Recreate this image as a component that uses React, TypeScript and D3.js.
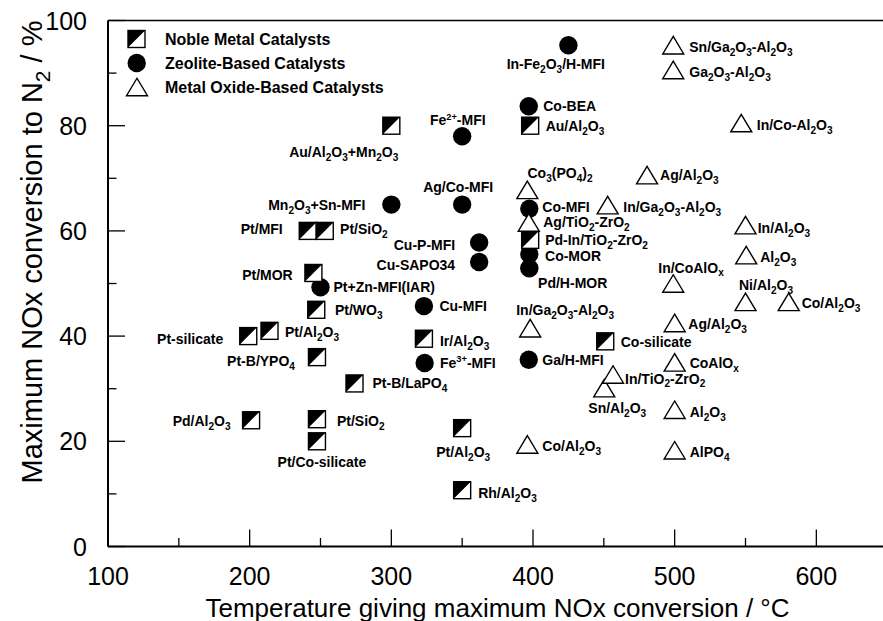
import React from 'react';
import * as d3 from 'd3';

const W = 883;
const H = 621;

// Noble metal catalysts (half-filled squares)
const nobleNames = [
  'Au/Al_2O_3+Mn_2O_3', 'Au/Al_2O_3', 'Pt/MFI', 'Pt/SiO_2', 'Pt/MOR', 'Pt/WO_3', 'Pt/Al_2O_3',
  'Pt-silicate', 'Pt-B/YPO_4', 'Pt-B/LaPO_4', 'Pd/Al_2O_3', 'Pt/SiO_2', 'Pt/Co-silicate',
  'Ir/Al_2O_3', 'Pd-In/TiO_2-ZrO_2', 'Co-silicate', 'Pt/Al_2O_3', 'Rh/Al_2O_3',
];
const nobleTemps = [300, 398, 241, 253, 245, 247, 214, 199, 247.5, 274, 201, 247.5, 247.5, 323, 398, 451, 350, 350];
const nobleConv = [80, 80, 60, 60, 52, 45, 41, 40, 36, 31, 24, 24.2, 20, 39.5, 58.3, 39, 22.5, 10.7];

// Zeolite-based catalysts (filled circles)
const zeoliteNames = [
  'In-Fe_2O_3/H-MFI', 'Co-BEA', 'Fe^{2+}-MFI', 'Mn_2O_3+Sn-MFI', 'Ag/Co-MFI', 'Cu-P-MFI',
  'Cu-SAPO34', 'Pt+Zn-MFI(IAR)', 'Cu-MFI', 'Co-MFI', 'Co-MOR', 'Pd/H-MOR', 'Fe^{3+}-MFI', 'Ga/H-MFI',
];
const zeoliteTemps = [425, 397, 350, 300, 350, 362, 362, 250, 323, 397.4, 397.4, 397.4, 323.5, 397];
const zeoliteConv = [95.3, 83.7, 78, 65, 65, 57.8, 54.1, 49.3, 45.7, 64.2, 55.6, 52.9, 34.9, 35.5];

// Metal oxide-based catalysts (open triangles)
const oxideNames = [
  'Sn/Ga_2O_3-Al_2O_3', 'Ga_2O_3-Al_2O_3', 'In/Co-Al_2O_3', 'Ag/Al_2O_3', 'Co_3(PO_4)_2',
  'Ag/TiO_2-ZrO_2', 'In/Ga_2O_3-Al_2O_3', 'In/Ga_2O_3-Al_2O_3', 'In/Al_2O_3', 'Al_2O_3',
  'Ni/Al_2O_3', 'Co/Al_2O_3', 'In/CoAlO_x', 'Ag/Al_2O_3', 'CoAlO_x', 'Al_2O_3', 'AlPO_4',
  'Sn/Al_2O_3', 'In/TiO_2-ZrO_2', 'Co/Al_2O_3',
];
const oxideTemps = [499, 499, 547, 480.5, 396, 397, 452.7, 398, 550, 550.5, 550, 580.5, 499, 500, 500, 500, 500, 450.3, 456.5, 396];
const oxideConv = [95.3, 90.6, 80.5, 70.6, 67.8, 61.6, 64.9, 41.5, 61.1, 55.4, 46.5, 46.5, 50, 42.5, 35, 26, 18.3, 30.1, 32.7, 19.4];

const xTicksMajor = [100, 200, 300, 400, 500, 600];
const xTicksMinor = [150, 250, 350, 450, 550, 650];
const yTicksMajor = [0, 20, 40, 60, 80, 100];
const yTicksMinor = [10, 30, 50, 70, 90];

const legendItems = ['Noble Metal Catalysts', 'Zeolite-Based Catalysts', 'Metal Oxide-Based Catalysts'];

type Anchor = 'start' | 'middle' | 'end';
// Label placement relative to each marker: [dx, dy, anchor]
const nobleLabelPos: [number, number, Anchor][] = [
  [7, 26, 'end'], [15.5, 0, 'start'], [-25, -1.5, 'end'], [15.3, -1.5, 'start'], [-20.7, 2, 'end'],
  [18.7, 0, 'start'], [15.5, 1, 'start'], [-25, 3, 'end'], [-22, 3.5, 'end'], [18, 0, 'start'],
  [-20.5, 1, 'end'], [20, 2, 'start'], [5, 21, 'middle'], [16, 2, 'start'], [15, 0.5, 'start'],
  [15.5, 0.5, 'start'], [1, 23.6, 'middle'], [16, 3, 'start'],
];
const zeoliteLabelPos: [number, number, Anchor][] = [
  [-12.6, 19, 'middle'], [14.5, 0, 'start'], [-4.4, -16, 'middle'], [-26, 0.5, 'end'], [-4, -18, 'middle'],
  [-24, 2.5, 'end'], [-24, 3, 'end'], [13, 0, 'start'], [15.5, 0, 'start'], [13, -2, 'start'],
  [15.7, 2, 'start'], [43.4, 14.5, 'middle'], [15.4, 0, 'start'], [13.5, 0, 'start'],
];
const oxideLabelPos: [number, number, Anchor][] = [
  [16, 1.5, 'start'], [16, 2, 'start'], [15.5, 2, 'start'], [13, 0, 'start'], [32.7, -16.6, 'middle'],
  [14.5, -0.5, 'start'], [15.6, 2, 'start'], [35, -18, 'middle'], [12.2, 3, 'start'], [14, 1.5, 'start'],
  [-6.5, -17, 'start'], [13, 1, 'start'], [-15, -16, 'start'], [13.6, 1, 'start'], [15, 1, 'start'],
  [15, 2, 'start'], [15, 2, 'start'], [13, 20, 'middle'], [12, 4, 'start'], [15, 1.5, 'start'],
];

const FONT = '"Liberation Sans", Arial, Helvetica, sans-serif';

// Parse chemical formulas: "_2" / "_{..}" subscripts, "^{..}" superscripts
function richText(label: string, fs: number) {
  const parts = label.split(/(_\{[^}]*\}|_[^{]|\^\{[^}]*\})/).filter((s) => s.length > 0);
  let shift = 0;
  return parts.map((p, i) => {
    let target = 0;
    let txt = p;
    let size = fs;
    if (p.startsWith('_')) {
      target = fs * 0.28;
      txt = p[1] === '{' ? p.slice(2, -1) : p.slice(1);
      size = fs * 0.72;
    } else if (p.startsWith('^')) {
      target = -fs * 0.4;
      txt = p.slice(2, -1);
      size = fs * 0.66;
    }
    const dy = target - shift;
    shift = target;
    return (
      <tspan key={i} dy={dy} fontSize={size}>
        {txt}
      </tspan>
    );
  });
}

const SQ = 17;
const CR = 9.2;
const TW = 10.5;
const TH = 8.75;

function NobleMarker({ cx, cy }: { cx: number; cy: number }) {
  const h = SQ / 2;
  return (
    <g transform={`translate(${cx},${cy})`}>
      <rect x={-h} y={-h} width={SQ} height={SQ} fill="#fff" />
      <path d={`M${-h},${-h}L${h},${-h}L${-h},${h}Z`} fill="#000" />
      <rect x={-h} y={-h} width={SQ} height={SQ} fill="none" stroke="#000" strokeWidth={1.4} />
    </g>
  );
}

function ZeoliteMarker({ cx, cy }: { cx: number; cy: number }) {
  return <circle cx={cx} cy={cy} r={CR} fill="#000" />;
}

function OxideMarker({ cx, cy }: { cx: number; cy: number }) {
  return (
    <path
      d={`M${cx},${cy - TH}L${cx + TW},${cy + TH}L${cx - TW},${cy + TH}Z`}
      fill="#fff"
      stroke="#000"
      strokeWidth={1.4}
      strokeLinejoin="miter"
    />
  );
}

export default function App() {
  const x = d3.scaleLinear().domain([100, 650]).range([108, 108 + 550 * (141.667 / 100)]);
  const y = d3.scaleLinear().domain([0, 100]).range([546.5, 20.5]);

  const [x0, x1] = x.range();
  const [yb, yt] = y.range();

  const noble = nobleNames.map((n, i) => ({ name: n, t: nobleTemps[i], c: nobleConv[i], pos: nobleLabelPos[i] }));
  const zeolite = zeoliteNames.map((n, i) => ({ name: n, t: zeoliteTemps[i], c: zeoliteConv[i], pos: zeoliteLabelPos[i] }));
  const oxide = oxideNames.map((n, i) => ({ name: n, t: oxideTemps[i], c: oxideConv[i], pos: oxideLabelPos[i] }));

  const labelFs = 14;
  const allLabels = [...noble, ...zeolite, ...oxide];

  return (
    <svg
      width={W}
      height={H}
      style={{ position: 'absolute', left: 0, top: 0, background: '#fff' }}
      fontFamily={FONT}
    >
      <rect x={0} y={0} width={W} height={H} fill="#fff" />

      {/* frame */}
      <line x1={x0} x2={x1} y1={yt} y2={yt} stroke="#000" strokeWidth={1.6} />
      <line x1={x1} x2={x1} y1={yt} y2={yb} stroke="#000" strokeWidth={1.6} />
      <line x1={x0} x2={x0} y1={yt} y2={yb} stroke="#000" strokeWidth={2} />
      <line x1={x0} x2={x1} y1={yb} y2={yb} stroke="#000" strokeWidth={2} />

      {/* x ticks */}
      {xTicksMajor.map((t) => (
        <line key={'xM' + t} x1={x(t)} x2={x(t)} y1={yb} y2={yb - 17} stroke="#000" strokeWidth={1.3} />
      ))}
      {xTicksMinor.map((t) => (
        <line key={'xm' + t} x1={x(t)} x2={x(t)} y1={yb} y2={yb - 8.5} stroke="#000" strokeWidth={1.3} />
      ))}
      {xTicksMajor.map((t) => (
        <text key={'xl' + t} x={x(t)} y={585} textAnchor="middle" fontSize={25}>
          {t}
        </text>
      ))}

      {/* y ticks */}
      {yTicksMajor.map((t) => (
        <line key={'yM' + t} x1={x0} x2={x0 + 17} y1={y(t)} y2={y(t)} stroke="#000" strokeWidth={1.3} />
      ))}
      {yTicksMinor.map((t) => (
        <line key={'ym' + t} x1={x0} x2={x0 + 8.5} y1={y(t)} y2={y(t)} stroke="#000" strokeWidth={1.3} />
      ))}
      {yTicksMajor.map((t) => (
        <text key={'yl' + t} x={87} y={y(t) + 9} textAnchor="end" fontSize={25}>
          {t}
        </text>
      ))}

      {/* axis titles */}
      <text x={497.5} y={617} textAnchor="middle" fontSize={26}>
        Temperature giving maximum NOx conversion / °C
      </text>
      <text transform={`translate(42,252) rotate(-90)`} textAnchor="middle" fontSize={29}>
        {richText('Maximum NOx conversion to N_2 / %', 29)}
      </text>

      {/* markers */}
      {zeolite.map((d, i) => (
        <ZeoliteMarker key={'z' + i} cx={x(d.t)} cy={y(d.c)} />
      ))}
      {noble.map((d, i) => (
        <NobleMarker key={'n' + i} cx={x(d.t)} cy={y(d.c)} />
      ))}
      {oxide.map((d, i) => (
        <OxideMarker key={'o' + i} cx={x(d.t)} cy={y(d.c)} />
      ))}

      {/* point labels */}
      {allLabels.map((d, i) => (
        <text
          key={'lab' + i}
          x={x(d.t) + d.pos[0]}
          y={y(d.c) + d.pos[1] + labelFs * 0.36}
          textAnchor={d.pos[2]}
          fontSize={labelFs}
          fontWeight="bold"
        >
          {richText(d.name, labelFs)}
        </text>
      ))}

      {/* legend */}
      <NobleMarker cx={136.5} cy={39} />
      <ZeoliteMarker cx={136.7} cy={63} />
      <OxideMarker cx={137} cy={87} />
      {legendItems.map((l, i) => (
        <text key={'leg' + i} x={165} y={39 + i * 24 + 5.8} fontSize={16} fontWeight="bold">
          {l}
        </text>
      ))}
    </svg>
  );
}
